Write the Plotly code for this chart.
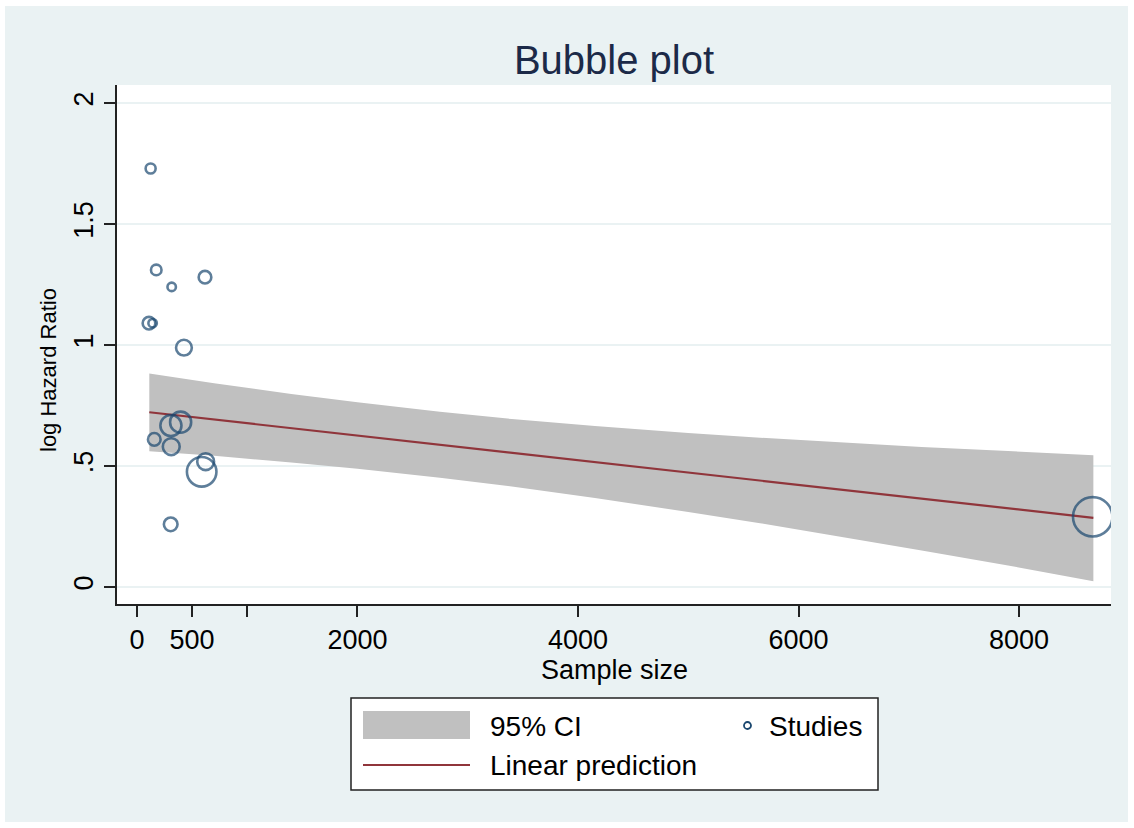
import plotly.graph_objects as go

# ---- data ----
sample_size = [124, 175, 315, 617, 109, 142, 426, 308, 396, 157, 311, 623, 587, 306, 8668]
log_hr = [1.729, 1.310, 1.240, 1.280, 1.090, 1.090, 0.989, 0.667, 0.681, 0.610, 0.580, 0.518, 0.476, 0.259, 0.290]
study_weight = [22.6, 25, 16, 36, 36, 16, 56, 100, 100, 36, 64, 64, 196, 42, 350]

ci_x = [112, 700, 1400, 2000, 2748, 3400, 4154, 5000, 5651, 6400, 7117, 7900, 8674]
ci_upper = [0.882, 0.842, 0.798, 0.763, 0.724, 0.694, 0.665, 0.636, 0.617, 0.597, 0.579, 0.562, 0.544]
ci_lower = [0.561, 0.542, 0.515, 0.489, 0.452, 0.415, 0.368, 0.310, 0.264, 0.207, 0.151, 0.089, 0.024]

fit_x = [112, 8674]
fit_y = [0.722, 0.286]

x_tickvals = [0, 500, 1000, 2000, 4000, 6000, 8000]
x_ticktext = ["0", "500", "", "2000", "4000", "6000", "8000"]
y_tickvals = [0, 0.5, 1, 1.5, 2]
y_ticktext = ["0", ".5", "1", "1.5", "2"]

# ---- styles ----
BG = "#EAF2F3"
NAVY = "#1a476f"
MAROON = "#90353b"
GRAY = "#c0c0c0"
FONT = "Liberation Sans, Arial, sans-serif"

W, H = 1134, 828
L, R, T, B = 117, 1111, 85, 604


def px(x):
    return (x - L) / (R - L)


def py(y):
    return (B - y) / (B - T)


fig = go.Figure()

fig.add_trace(go.Scatter(
    x=ci_x + ci_x[::-1], y=ci_upper + ci_lower[::-1],
    fill="toself", fillcolor=GRAY, line=dict(width=0),
    mode="lines", name="95% CI", hoverinfo="skip"))

fig.add_trace(go.Scatter(
    x=fit_x, y=fit_y, mode="lines", line=dict(color=MAROON, width=2.2),
    name="Linear prediction"))

fig.add_trace(go.Scatter(
    x=sample_size, y=log_hr, mode="markers", name="Studies",
    marker=dict(symbol="circle-open", size=study_weight, sizemode="area",
                sizeref=0.45, color=NAVY, line=dict(width=2.6, color=NAVY))))

shapes = []
# white outer border strips
for (x0, y0, x1, y1) in [(0, 0, W, 6), (0, 822, W, H), (0, 0, 5, H), (1128, 0, W, H)]:
    shapes.append(dict(type="rect", xref="paper", yref="paper",
                       x0=px(x0), x1=px(x1), y0=py(y0), y1=py(y1),
                       fillcolor="white", line=dict(width=0), layer="above"))
# legend box
shapes.append(dict(type="rect", xref="paper", yref="paper",
                   x0=px(351), x1=px(878), y0=py(698), y1=py(790),
                   fillcolor="white", line=dict(color="#222", width=1.5)))
shapes.append(dict(type="rect", xref="paper", yref="paper",
                   x0=px(363), x1=px(470), y0=py(711), y1=py(739),
                   fillcolor=GRAY, line=dict(width=0)))
shapes.append(dict(type="line", xref="paper", yref="paper",
                   x0=px(363), x1=px(470), y0=py(765), y1=py(765),
                   line=dict(color=MAROON, width=2.2)))
shapes.append(dict(type="circle", xref="paper", yref="paper",
                   x0=px(744), x1=px(751), y0=py(722), y1=py(729),
                   line=dict(color=NAVY, width=1.8)))

annotations = []
for text, x, y in [("95% CI", 488, 726), ("Studies", 767, 726), ("Linear prediction", 488, 765)]:
    annotations.append(dict(text=text, xref="paper", yref="paper", x=px(x), y=py(y),
                            xanchor="left", yanchor="middle", showarrow=False,
                            font=dict(family=FONT, size=28, color="black")))
# axis titles
annotations.append(dict(text="log Hazard Ratio", xref="paper", yref="paper", x=px(48), y=py(370),
                        xanchor="center", yanchor="middle", textangle=-90, showarrow=False,
                        font=dict(family=FONT, size=22, color="black")))
annotations.append(dict(text="Sample size", xref="paper", yref="paper", x=px(614), y=py(670),
                        xanchor="center", yanchor="middle", showarrow=False,
                        font=dict(family=FONT, size=27, color="black")))

fig.update_layout(
    width=W, height=H,
    margin=dict(l=L, r=W - R, t=T, b=H - B),
    paper_bgcolor=BG, plot_bgcolor="white",
    showlegend=False,
    font=dict(family=FONT, size=26, color="black"),
    title=dict(text="Bubble plot", x=0.5, xref="paper", xanchor="center", y=1 - 60 / H, yanchor="middle",
               font=dict(family=FONT, size=40, color="#1c2a48")),
    shapes=shapes, annotations=annotations,
    xaxis=dict(range=[-181, 8834], tickvals=x_tickvals, ticktext=x_ticktext,
               showgrid=False, zeroline=False, showline=True, linecolor="#222", linewidth=1.5,
               ticks="outside", ticklen=11, tickwidth=1.5, tickcolor="#222",
               tickfont=dict(size=27)),
    yaxis=dict(range=[-0.070, 2.074], tickvals=y_tickvals, ticktext=y_ticktext, tickangle=-90,
               showgrid=True, gridcolor=BG, gridwidth=2, zeroline=False,
               showline=True, linecolor="#222", linewidth=1.5,
               ticks="outside", ticklen=11, tickwidth=1.5, tickcolor="#222",
               tickfont=dict(size=27)),
)

fig.write_html("out.html")
